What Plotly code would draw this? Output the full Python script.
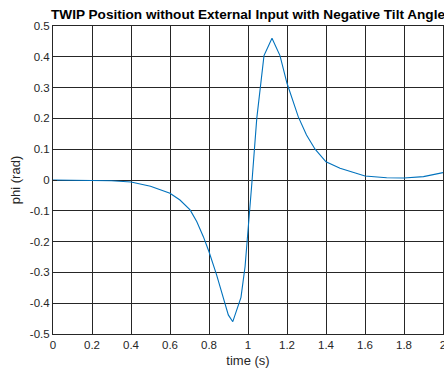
import plotly.graph_objects as go

# Data
time_s = [0.0, 0.1, 0.2, 0.3, 0.4, 0.5, 0.6, 0.651, 0.703, 0.737, 0.771, 0.8, 0.839,
          0.873, 0.899, 0.922, 0.964, 0.985, 1.002, 1.019, 1.045, 1.062, 1.082,
          1.123, 1.164, 1.2, 1.229, 1.258, 1.3, 1.344, 1.4, 1.472, 1.6, 1.711,
          1.8, 1.9, 2.0]
phi_rad = [0.0, -0.0002, -0.0008, -0.0025, -0.0065, -0.02, -0.043, -0.065, -0.097,
           -0.135, -0.184, -0.233, -0.308, -0.379, -0.438, -0.46, -0.381, -0.281,
           -0.162, -0.016, 0.2, 0.303, 0.404, 0.46, 0.404, 0.314, 0.26, 0.205,
           0.146, 0.1, 0.059, 0.038, 0.013, 0.0075, 0.0065, 0.011, 0.024]

x_ticks = [0, 0.2, 0.4, 0.6, 0.8, 1.0, 1.2, 1.4, 1.6, 1.8, 2.0]
x_tick_labels = ["0", "0.2", "0.4", "0.6", "0.8", "1", "1.2", "1.4", "1.6", "1.8", "2"]
y_ticks = [-0.5, -0.4, -0.3, -0.2, -0.1, 0, 0.1, 0.2, 0.3, 0.4, 0.5]
y_tick_labels = ["-0.5", "-0.4", "-0.3", "-0.2", "-0.1", "0", "0.1", "0.2", "0.3", "0.4", "0.5"]

title_text = "TWIP Position without External Input with Negative Tilt Angle"

fig = go.Figure()
fig.add_trace(go.Scatter(x=time_s, y=phi_rad, mode="lines",
                         line=dict(color="#0072BD", width=1.1),
                         showlegend=False))

FONT = "Liberation Sans, Arial, sans-serif"
axis_common = dict(
    showline=True, mirror=True, linecolor="#262626", linewidth=1,
    showgrid=True, gridcolor="#262626", gridwidth=1,
    zeroline=False, ticks="inside", ticklen=4, tickcolor="#262626",
    tickfont=dict(family=FONT, size=11.5, color="#262626"),
    automargin=False, ticklabeloverflow="allow",
)

fig.update_layout(
    width=444, height=374,
    margin=dict(l=53, r=1, t=26, b=40),
    paper_bgcolor="white", plot_bgcolor="white",
    title=dict(text="<b>" + title_text + "</b>", x=0.5, xref="paper", xanchor="center",
               y=1 - 14 / 374, yref="container", yanchor="middle",
               font=dict(family=FONT, size=13.6, color="black"), automargin=False),
    xaxis=dict(range=[0, 2], tickvals=x_ticks, ticktext=x_tick_labels,
               title=dict(text="time (s)", standoff=6,
                          font=dict(family=FONT, size=13, color="#262626")),
               **axis_common),
    yaxis=dict(range=[-0.5, 0.5], tickvals=y_ticks, ticktext=y_tick_labels,
               title=dict(text="phi (rad)", standoff=6,
                          font=dict(family=FONT, size=13, color="#262626")),
               **axis_common),
)

fig.write_html("out.html", config={"displayModeBar": False},
               post_script="document.body.style.margin='0';document.body.style.overflow='hidden';")
